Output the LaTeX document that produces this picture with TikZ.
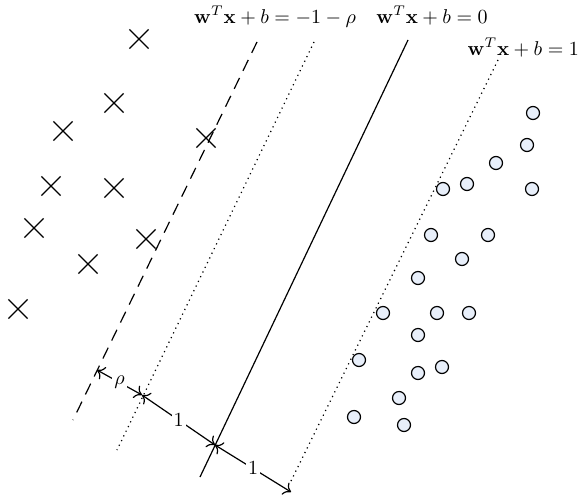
\documentclass[tikz,border=0pt]{standalone}
\usepackage{amsfonts, amssymb, amsmath}
\usepackage{tikz}
\usetikzlibrary{shapes.misc, arrows.meta}

\definecolor{ptfill}{RGB}{232,239,250}

\begin{document}
\begin{tikzpicture}[x=0.5pt, y=-0.5pt, >={To[length=3.5pt, width=7pt]},
    negmark/.style={cross out, draw, line width=0.6pt, minimum size=9pt, inner sep=0pt},
    posdot/.style={circle, draw, line width=0.6pt, fill=ptfill, minimum size=6.5pt, inner sep=0pt},
    gap/.style={fill=white, inner sep=1pt, font=\normalsize},
    eq/.style={anchor=base, font=\normalsize}]
    \useasboundingbox (0,0) rectangle (587,498);

    % Negative class
    \foreach \x/\y [count=\i] in {139/39, 114/103, 63/131, 206/138, 51/186, 114/188, 34/228, 146/239, 88/264, 18/309} {
        \node[negmark] (n\i) at (\x,\y) {};
    }

    % Positive class
    \foreach \x/\y [count=\i] in {533/113, 527/145, 496/163, 443/189, 467/184, 532/189, 431/235, 488/235, 462/259, 418/278, 383/313, 437/313, 469/313, 418/335, 359/360, 418/373, 442/367, 399/398, 354/417, 404/425} {
        \node[posdot] (p\i) at (\x,\y) {};
    }

    % Hyperplanes
    \coordinate (dashtop) at (257,42);
    \coordinate (dashbot) at (73,420);
    \coordinate (lefttop) at (314,42);
    \coordinate (leftbot) at (117,450);
    \coordinate (midtop) at (408,40);
    \coordinate (midbot) at (200,477);
    \coordinate (righttop) at (498,60);
    \coordinate (rightbot) at (290,483);

    \draw[line width=0.6pt, dash pattern=on 6pt off 4pt] (dashtop) -- (dashbot);
    \draw[line width=0.6pt, dotted] (lefttop) -- (leftbot);
    \draw[line width=0.6pt] (midtop) -- (midbot);
    \draw[line width=0.6pt, dotted] (righttop) -- (rightbot);

    \node[eq] (eqdash) at (275,23) {$\mathbf{w}^T\mathbf{x}+b=-1-\rho$};
    \node[eq] (eqmid) at (432,23) {$\mathbf{w}^T\mathbf{x}+b=0$};
    \node[eq, anchor=base east] (eqright) at (586,55) {$\mathbf{w}^T\mathbf{x}+b=1$};

    % Margins
    \coordinate (ma) at (97,370);
    \coordinate (mb) at (142,395);
    \coordinate (mc) at (215,445);
    \coordinate (md) at (291,492);

    \draw[<->, line width=0.6pt] (ma) -- node[gap] (rho) {$\rho$} (mb);
    \draw[<->, line width=0.6pt] (mb) -- node[gap] (one) {$1$} (mc);
    \draw[<->, line width=0.6pt] (mc) -- node[gap] (two) {$1$} (md);
\end{tikzpicture}
\end{document}
